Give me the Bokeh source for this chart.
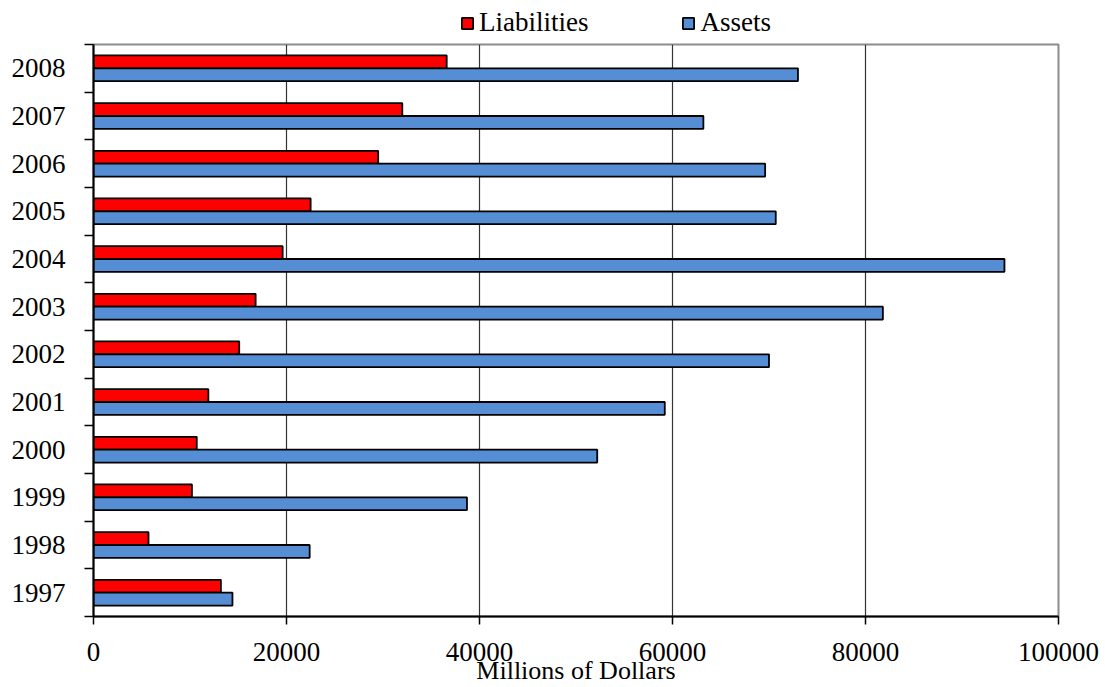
from bokeh.plotting import figure
from bokeh.layouts import column
from bokeh.models import (FixedTicker, Legend, LegendItem, ColumnDataSource,
                          NumeralTickFormatter)
from bokeh.transform import dodge
from bokeh.embed import file_html
from bokeh.resources import INLINE

years = ["1997", "1998", "1999", "2000", "2001", "2002", "2003", "2004",
         "2005", "2006", "2007", "2008"]
liabilities = [13200, 5700, 10200, 10700, 11900, 15100, 16800, 19600,
               22500, 29500, 32000, 36600]
assets = [14400, 22400, 38700, 52200, 59200, 70000, 81800, 94400,
          70700, 69600, 63200, 73000]
series_names = ["Liabilities", "Assets"]
x_ticks = [0, 20000, 40000, 60000, 80000, 100000]
x_title = "Millions of Dollars"

FONT = "Liberation Serif"
RED = "#FF0000"
BLUE = "#558ED5"
W = 1100
LEFT = 93

pos = list(range(len(years)))
source = ColumnDataSource(dict(year=years, pos=pos, liab=liabilities, assets=assets))

# ---------------- main chart ----------------
p = figure(width=W, height=647, x_range=(0, 100000), y_range=(-0.5, len(years) - 0.5),
           output_backend="svg", toolbar_location=None,
           min_border_left=LEFT, min_border_right=W - 1058, min_border_top=4,
           min_border_bottom=40)

bar_h = 0.27
p.hbar(y=dodge("pos", bar_h / 2), left=0, right="liab", height=bar_h, source=source,
       fill_color=RED, line_color="black", line_width=1.8)
p.hbar(y=dodge("pos", -bar_h / 2), left=0, right="assets", height=bar_h, source=source,
       fill_color=BLUE, line_color="black", line_width=1.8)

# y axis: labels at category centres, ticks at category boundaries
p.yaxis.ticker = FixedTicker(ticks=pos, minor_ticks=[i - 0.5 for i in range(len(years) + 1)])
p.yaxis.major_label_overrides = {i: y for i, y in zip(pos, years)}
p.yaxis.major_tick_out = 0
p.yaxis.major_tick_in = 0
p.yaxis.minor_tick_out = 9
p.yaxis.minor_tick_in = 0
p.yaxis.minor_tick_line_color = "black"
p.yaxis.minor_tick_line_width = 1.5
p.yaxis.major_label_standoff = 19

# x axis
p.xaxis.ticker = FixedTicker(ticks=x_ticks, minor_ticks=[])
p.xaxis.formatter = NumeralTickFormatter(format="0")
p.xaxis.major_tick_out = 8
p.xaxis.major_tick_in = 0
p.xaxis.major_tick_line_color = "black"
p.xaxis.major_tick_line_width = 1.5
p.xaxis.major_label_standoff = 18
p.xaxis.axis_label = x_title
p.xaxis.axis_label_standoff = -8
p.xaxis.axis_label_text_font = FONT
p.xaxis.axis_label_text_font_size = "26px"
p.xaxis.axis_label_text_font_style = "normal"
p.xaxis.axis_label_text_color = "black"

for ax in (p.xaxis, p.yaxis):
    ax.axis_line_color = "black"
    ax.axis_line_width = 2
    ax.major_label_text_font = FONT
    ax.major_label_text_font_size = "27px"
    ax.major_label_text_color = "black"

p.ygrid.grid_line_color = None
p.xgrid.ticker = FixedTicker(ticks=x_ticks)
p.xgrid.grid_line_color = "#333333"
p.xgrid.grid_line_width = 1.2

p.outline_line_color = "#8c8c8c"
p.outline_line_width = 2
p.background_fill_color = "white"
p.border_fill_color = "white"

# ---------------- legend strip (hidden proxy renderers) ----------------
lg = figure(width=W, height=40, x_range=(0, 1), y_range=(0, 1),
            output_backend="svg", toolbar_location=None,
            x_axis_type=None, y_axis_type=None,
            min_border_left=0, min_border_right=0, min_border_top=0, min_border_bottom=0)
lg.grid.visible = False
lg.outline_line_color = None
k_l = lg.hbar(y="pos", left=0, right="liab", height=bar_h, source=source,
              fill_color=RED, line_color="black", line_width=1.8, visible=False)
k_a = lg.hbar(y="pos", left=0, right="assets", height=bar_h, source=source,
              fill_color=BLUE, line_color="black", line_width=1.8, visible=False)
legend = Legend(items=[LegendItem(label=series_names[0], renderers=[k_l]),
                       LegendItem(label=series_names[1], renderers=[k_a])],
                orientation="horizontal", location=(460 - LEFT, 2),
                glyph_width=14, glyph_height=14, label_standoff=5, spacing=93,
                label_text_font=FONT, label_text_font_size="27px",
                label_text_color="black", inactive_fill_alpha=0,
                padding=0, margin=0, border_line_color=None, background_fill_alpha=0)
lg.add_layout(legend, "center")

layout = column(lg, p, spacing=0)
open("out.html", "w").write(file_html(layout, INLINE))
